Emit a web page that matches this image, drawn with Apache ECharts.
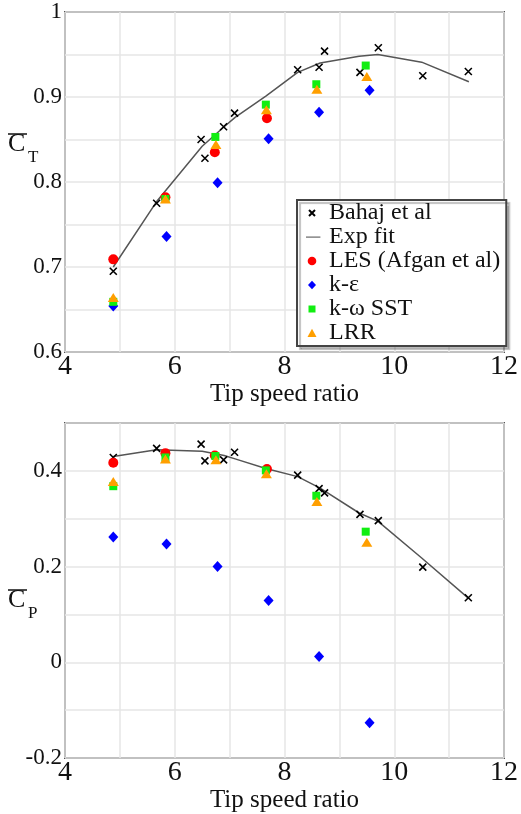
<!DOCTYPE html>
<html>
<head>
<meta charset="utf-8">
<script src="https://cdn.jsdelivr.net/npm/echarts@6/dist/echarts.min.js"></script>
<style>html,body{margin:0;padding:0;background:#fff}#c{width:521px;height:814px}</style>
</head>
<body>
<div id="c"></div>
<script>
// Experimental data (Bahaj et al)
var bahajX  = [4.88, 5.67, 6.48, 6.55, 6.89, 7.09, 8.24, 8.63, 8.73, 9.375, 9.71, 10.52, 11.35];
var bahajCT = [0.695, 0.775, 0.850, 0.828, 0.865, 0.881, 0.932, 0.935, 0.954, 0.929, 0.958, 0.925, 0.930];
var bahajCP = [0.428, 0.447, 0.456, 0.421, 0.423, 0.439, 0.391, 0.363, 0.354, 0.309, 0.296, 0.199, 0.135];
// Exp fit
var fitX  = [4.88, 5.67, 6.5, 6.9, 7.1, 7.66, 8.24, 8.65, 9.36, 9.7, 10.5, 11.36];
var fitCT = [0.700, 0.777, 0.842, 0.865, 0.876, 0.901, 0.929, 0.940, 0.948, 0.950, 0.941, 0.918];
var fitCP = [0.430, 0.444, 0.441, 0.432, 0.425, 0.405, 0.388, 0.364, 0.312, 0.295, 0.218, 0.133];
// LES (Afgan et al)
var lesX  = [4.88, 5.83, 6.73, 7.68];
var lesCT = [0.709, 0.782, 0.835, 0.875];
var lesCP = [0.417, 0.437, 0.432, 0.404];
// k-epsilon
var keX  = [4.88, 5.85, 6.78, 7.71, 8.63, 9.55];
var keCT = [0.654, 0.736, 0.799, 0.851, 0.882, 0.908];
var keCP = [0.262, 0.247, 0.200, 0.129, 0.012, -0.126];
// k-omega SST
var sstX  = [4.88, 5.83, 6.74, 7.66, 8.58, 9.48];
var sstCT = [0.659, 0.780, 0.853, 0.891, 0.915, 0.937];
var sstCP = [0.368, 0.428, 0.431, 0.401, 0.348, 0.273];
// LRR
var lrrX  = [4.88, 5.83, 6.75, 7.67, 8.59, 9.50];
var lrrCT = [0.664, 0.780, 0.844, 0.885, 0.909, 0.924];
var lrrCP = [0.378, 0.425, 0.423, 0.394, 0.336, 0.251];

var names = ['Bahaj et al', 'Exp fit', 'LES (Afgan et al)', 'k-\u03b5', 'k-\u03c9 SST', 'LRR'];
var xTicks = [4, 6, 8, 10, 12];
var ctTicks = [0.6, 0.7, 0.8, 0.9, 1];
var cpTicks = [-0.2, 0, 0.2, 0.4];

function zip(xs, ys) { return xs.map(function (x, i) { return [x, ys[i]]; }); }
var SERIF = "'Liberation Serif', 'DejaVu Serif', serif";
var crossPath = 'path://M0,0L10,10M10,0L0,10';

// legend icons in an 18x9 box (the leading moves fix the box size)
var BOX = 'path://M0,0M18,9';
var legendIcons = [
  BOX + 'M3,1.5L9,7.5M9,1.5L3,7.5',
  BOX + 'M-2,4L14,4L14,5.2L-2,5.2Z',
  BOX + 'M10.3,4.5A4.3,4.3 0 1 1 1.7,4.5A4.3,4.3 0 1 1 10.3,4.5Z',
  BOX + 'M6,0.2L10,4.5L6,8.8L2,4.5Z',
  BOX + 'M2.5,1L9.5,1L9.5,8L2.5,8Z',
  BOX + 'M6,0.3L10.5,8.5L1.5,8.5Z'
];

function hasTick(list, v) {
  for (var i = 0; i < list.length; i++) if (Math.abs(list[i] - v) < 1e-6) return true;
  return false;
}
function fmt(v) { return (Math.round(v * 100) / 100).toString(); }

function xAxis(gi) {
  return {
    gridIndex: gi, type: 'value', min: 4, max: 12, interval: 1,
    name: 'Tip speed ratio', nameLocation: 'middle', nameGap: 24,
    nameTextStyle: { fontFamily: SERIF, fontSize: 25, color: '#111' },
    axisLine: { show: false }, axisTick: { show: false },
    axisLabel: {
      margin: 1, fontFamily: SERIF, fontSize: 28, color: '#111',
      formatter: function (v) { return hasTick(xTicks, v) ? String(v) : ''; }
    },
    splitLine: { show: true, lineStyle: { color: '#e6e6e6', width: 1.5 } }
  };
}
function yAxis(gi, min, max, interval, ticks) {
  return {
    gridIndex: gi, type: 'value', min: min, max: max, interval: interval,
    axisLine: { show: false }, axisTick: { show: false },
    axisLabel: {
      margin: 3, fontFamily: SERIF, fontSize: 23, color: '#111',
      formatter: function (v) { return hasTick(ticks, v) ? fmt(v) : ''; }
    },
    splitLine: { show: true, lineStyle: { color: '#e6e6e6', width: 1.5 } }
  };
}

function seriesFor(gi, ct) {
  var b = ct ? bahajCT : bahajCP, f = ct ? fitCT : fitCP, l = ct ? lesCT : lesCP,
      k = ct ? keCT : keCP, s = ct ? sstCT : sstCP, r = ct ? lrrCT : lrrCP;
  return [
    { name: names[1], type: 'line', xAxisIndex: gi, yAxisIndex: gi, data: zip(fitX, f),
      symbol: 'none', lineStyle: { color: '#555', width: 1.5 }, itemStyle: { color: '#555' }, z: 2 },
    { name: names[0], type: 'scatter', xAxisIndex: gi, yAxisIndex: gi, data: zip(bahajX, b),
      symbol: crossPath, symbolSize: 7,
      itemStyle: { color: 'rgba(0,0,0,0)', borderColor: '#000', borderWidth: 1.6, opacity: 1 }, z: 3 },
    { name: names[2], type: 'scatter', xAxisIndex: gi, yAxisIndex: gi, data: zip(lesX, l),
      symbol: 'circle', symbolSize: 10, itemStyle: { color: '#ff0000', opacity: 1 }, z: 4 },
    { name: names[3], type: 'scatter', xAxisIndex: gi, yAxisIndex: gi, data: zip(keX, k),
      symbol: 'diamond', symbolSize: [10, 11], itemStyle: { color: '#0000ff', opacity: 1 }, z: 4 },
    { name: names[4], type: 'scatter', xAxisIndex: gi, yAxisIndex: gi, data: zip(sstX, s),
      symbol: 'rect', symbolSize: 8, itemStyle: { color: '#11ee11', opacity: 1 }, z: 5 },
    { name: names[5], type: 'scatter', xAxisIndex: gi, yAxisIndex: gi, data: zip(lrrX, r),
      symbol: 'triangle', symbolSize: [11, 9], itemStyle: { color: '#ff9f00', opacity: 1 }, z: 6 }
  ];
}

var chart = echarts.init(document.getElementById('c'), null, { renderer: 'canvas' });
chart.setOption({
  animation: false,
  backgroundColor: '#fff',
  textStyle: { fontFamily: SERIF },
  grid: [
    { left: 65, top: 12, width: 445, height: 340, show: true, borderColor: '#555', borderWidth: 2, backgroundColor: 'transparent' },
    { left: 65, top: 423, width: 445, height: 340, show: true, borderColor: '#555', borderWidth: 2, backgroundColor: 'transparent' }
  ],
  xAxis: [xAxis(0), xAxis(1)],
  yAxis: [yAxis(0, 0.6, 1, 0.05, ctTicks), yAxis(1, -0.2, 0.5, 0.1, cpTicks)],
  legend: {
    data: names.map(function (n, i) { return { name: n, icon: legendIcons[i] }; }),
    orient: 'vertical', left: 297, top: 200,
    padding: [1, 6, 1, 8], itemGap: 0, itemWidth: 18, itemHeight: 9,
    backgroundColor: '#fff', borderColor: '#444', borderWidth: 2,
    shadowColor: 'rgba(0,0,0,0.25)', shadowOffsetX: 3, shadowOffsetY: 3, shadowBlur: 1,
    selectedMode: false,
    textStyle: { fontFamily: SERIF, fontSize: 24, lineHeight: 24, color: '#111' }
  },
  graphic: [
    { type: 'text', left: 8, top: 131, style: { text: 'C', font: '26px "Liberation Serif"', fill: '#111' } },
    { type: 'line', shape: { x1: 8, y1: 134, x2: 27, y2: 134 }, style: { stroke: '#111', lineWidth: 1.5 } },
    { type: 'text', left: 28, top: 149, style: { text: 'T', font: '17px "Liberation Serif"', fill: '#111' } },
    { type: 'text', left: 8, top: 587, style: { text: 'C', font: '26px "Liberation Serif"', fill: '#111' } },
    { type: 'line', shape: { x1: 8, y1: 590, x2: 27, y2: 590 }, style: { stroke: '#111', lineWidth: 1.5 } },
    { type: 'text', left: 28, top: 605, style: { text: 'P', font: '17px "Liberation Serif"', fill: '#111' } }
  ],
  series: seriesFor(0, true).concat(seriesFor(1, false))
});
</script>
</body>
</html>
